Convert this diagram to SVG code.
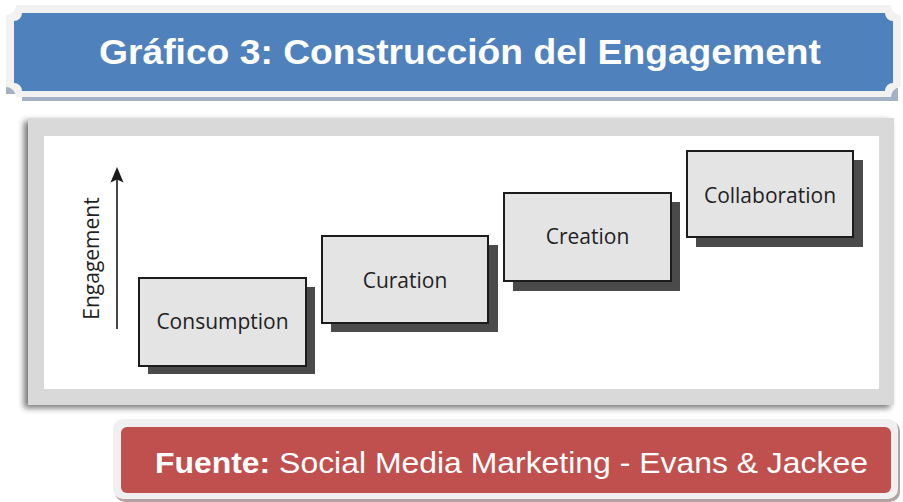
<svg xmlns="http://www.w3.org/2000/svg" width="903" height="502" viewBox="0 0 903 502">
<defs>
<style>
.box{fill:#e4e4e4;stroke:#1c1c1c;stroke-width:2}
.bsh{fill:#4a4a4a}
.lbl{font-family:"Open Sans","Noto Sans",sans-serif;font-size:21px;fill:#1f1f24;text-anchor:middle}
</style>
<filter id="fsh" x="-5%" y="-10%" width="110%" height="125%">
<feGaussianBlur in="SourceAlpha" stdDeviation="3"/>
<feOffset dx="-4" dy="3" result="b"/>
<feComponentTransfer><feFuncA type="linear" slope="0.55"/></feComponentTransfer>
<feMerge><feMergeNode/><feMergeNode in="SourceGraphic"/></feMerge>
</filter>
</defs>
<rect width="903" height="502" fill="#ffffff"/>

<g id="title">
<rect x="22" y="88" width="876" height="13" fill="#a2b1c3"/>
<rect x="6" y="84" width="12" height="10" fill="#a2b1c3"/>
<path d="M16,5 H891 A10 10 0 0 0 901 15 V87 A10 10 0 0 0 891 97 H16 A10 10 0 0 0 6 87 V15 A10 10 0 0 0 16 5 Z" fill="#f2f2f2"/>
<path d="M22,13 H885 A8 8 0 0 0 893 21 V83 A8 8 0 0 0 885 91 H22 A8 8 0 0 0 14 83 V21 A8 8 0 0 0 22 13 Z" fill="#4f81bd"/>
<text x="460" y="64" font-family="'Liberation Sans',Arial,sans-serif" font-size="35" font-weight="bold" fill="#ffffff" text-anchor="middle" textLength="722" lengthAdjust="spacingAndGlyphs">Gráfico 3: Construcción del Engagement</text>
</g>

<g id="panel">
<rect x="28" y="118" width="866" height="287" fill="#d9d9d9" filter="url(#fsh)"/>
<rect x="44" y="136" width="835" height="253" fill="#ffffff"/>
</g>

<g id="axis">
<line x1="117" y1="329" x2="117" y2="179" stroke="#1a1a1a" stroke-width="1.6"/>
<polygon points="117,167 123.5,182.5 117,179.5 110.5,182.5" fill="#1a1a1a"/>
<text class="lbl" transform="translate(99,258.5) rotate(-90)" x="0" y="0">Engagement</text>
</g>

<g id="consumption">
<rect class="bsh" x="148" y="287" width="167" height="87"/>
<rect class="box" x="139" y="278" width="167" height="88"/>
<text class="lbl" x="222.5" y="329">Consumption</text>
</g>
<g id="curation">
<rect class="bsh" x="331" y="245" width="167" height="87"/>
<rect class="box" x="322" y="236" width="166" height="87"/>
<text class="lbl" x="405" y="288">Curation</text>
</g>
<g id="creation">
<rect class="bsh" x="513" y="202" width="167" height="89"/>
<rect class="box" x="504" y="193" width="167" height="88"/>
<text class="lbl" x="587.5" y="244">Creation</text>
</g>
<g id="collaboration">
<rect class="bsh" x="696" y="160" width="167" height="87"/>
<rect class="box" x="687" y="151" width="166" height="86"/>
<text class="lbl" x="770" y="203">Collaboration</text>
</g>

<g id="connectors"></g>

<g id="source">
<rect x="115" y="421" width="785" height="81" rx="10" fill="#b5a3a3"/>
<rect x="113" y="419" width="785" height="80" rx="10" fill="#f0f0f0"/>
<rect x="121" y="427" width="770" height="66" rx="6" fill="#c0504d"/>
<text x="155" y="473" font-family="'Liberation Sans',Arial,sans-serif" font-size="29" fill="#ffffff" textLength="713" lengthAdjust="spacingAndGlyphs"><tspan font-weight="bold">Fuente:</tspan> Social Media Marketing - Evans &amp; Jackee</text>
</g>
</svg>
